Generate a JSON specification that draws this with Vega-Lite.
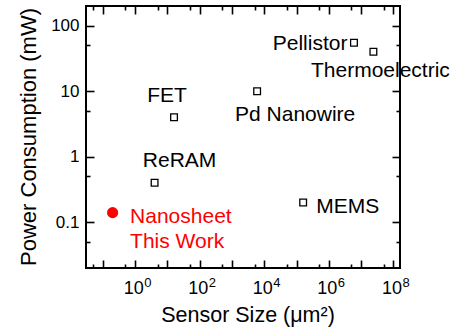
{
  "$schema": "https://vega.github.io/schema/vega-lite/v6.json",
  "width": 314,
  "height": 262,
  "autosize": "none",
  "padding": {"left": 86, "top": 6, "right": 56, "bottom": 64},
  "background": "white",
  "config": {
    "font": "Liberation Sans",
    "view": {"stroke": "black", "strokeWidth": 2},
    "axis": {
      "grid": false,
      "domain": false,
      "tickColor": "black",
      "tickWidth": 1.6,
      "labelColor": "black",
      "labelFont": "Liberation Sans",
      "labelFontSize": 17,
      "labelOverlap": false,
      "labelFlush": false,
      "titleColor": "black",
      "titleFont": "Liberation Sans",
      "titleFontWeight": "normal"
    }
  },
  "data": {
    "values": [
      {"device": "Nanosheet", "label": "Nanosheet\nThis Work", "size": 0.2, "power": 0.14},
      {"device": "ReRAM", "label": "ReRAM", "size": 4, "power": 0.4},
      {"device": "FET", "label": "FET", "size": 16, "power": 4},
      {"device": "Pd Nanowire", "label": "Pd Nanowire", "size": 6000, "power": 10},
      {"device": "MEMS", "label": "MEMS", "size": 160000, "power": 0.2},
      {"device": "Pellistor", "label": "Pellistor", "size": 6000000, "power": 55},
      {"device": "Thermoelectric", "label": "Thermoelectric", "size": 24000000, "power": 40}
    ]
  },
  "resolve": {"axis": {"x": "independent", "y": "independent"}},
  "layer": [
    {
      "transform": [{"filter": "datum.device != 'Nanosheet'"}],
      "mark": {"type": "point", "shape": "square", "filled": false, "stroke": "black", "strokeWidth": 1.3, "size": 45, "opacity": 1},
      "encoding": {
        "x": {
          "field": "size", "type": "quantitative",
          "scale": {"type": "log", "domain": [0.03, 160000000], "nice": false},
          "axis": {
            "orient": "bottom",
            "values": [0.1, 1, 10, 100, 1000, 10000, 100000, 1000000, 10000000, 100000000],
            "tickSize": -8,
            "labelPadding": 33,
            "labelFontSize": 18,
            "labelBaseline": "alphabetic",
            "labelAlign": "center",
            "labelOffset": -2,
            "labelExpr": "datum.value == 1 || datum.value == 100 || datum.value == 10000 || datum.value == 1000000 || datum.value == 100000000 ? '10' : ''",
            "title": "Sensor Size (μm²)",
            "titleFontSize": 21.5,
            "titleX": 161.5,
            "titleY": 53,
            "titleAlign": "center",
            "titleBaseline": "alphabetic"
          }
        },
        "y": {
          "field": "power", "type": "quantitative",
          "scale": {"type": "log", "domain": [0.02, 200], "nice": false},
          "axis": {
            "orient": "left",
            "values": [0.1, 1, 10, 100],
            "tickSize": -8,
            "labelPadding": 15,
            "labelExpr": "datum.value < 1 ? '0.1' : format(datum.value, 'd')",
            "title": "Power Consumption (mW)",
            "titleFontSize": 22,
            "titleAngle": -90,
            "titleX": -51,
            "titleY": 130.5,
            "titleAlign": "center",
            "titleBaseline": "alphabetic"
          }
        }
      }
    },
    {
      "transform": [{"filter": "datum.device == 'Nanosheet'"}],
      "mark": {"type": "point", "shape": "circle", "filled": true, "color": "#ff0000", "size": 125, "opacity": 1},
      "encoding": {
        "x": {
          "field": "size", "type": "quantitative",
          "scale": {"type": "log", "domain": [0.03, 160000000], "nice": false},
          "axis": {
            "orient": "bottom",
            "values": [0.05, 0.5, 5, 50, 500, 5000, 50000, 500000, 5000000, 50000000],
            "tickSize": -4, "labels": false, "title": null
          }
        },
        "y": {
          "field": "power", "type": "quantitative",
          "scale": {"type": "log", "domain": [0.02, 200], "nice": false},
          "axis": {
            "orient": "left",
            "values": [0.05, 0.5, 5, 50],
            "tickSize": -4, "labels": false, "title": null
          }
        }
      }
    },
    {
      "transform": [{"filter": "datum.device == 'Pellistor'"}],
      "mark": {"type": "text", "fontSize": 21, "align": "right", "baseline": "alphabetic", "dx": -6.5, "dy": 7, "color": "black"},
      "encoding": {
        "text": {"field": "label"},
        "x": {
          "field": "size", "type": "quantitative",
          "scale": {"type": "log", "domain": [0.03, 160000000], "nice": false},
          "axis": {
            "orient": "top",
            "values": [0.1, 1, 10, 100, 1000, 10000, 100000, 1000000, 10000000, 100000000],
            "tickSize": -8, "labels": false, "title": null
          }
        },
        "y": {
          "field": "power", "type": "quantitative",
          "scale": {"type": "log", "domain": [0.02, 200], "nice": false},
          "axis": {
            "orient": "right",
            "values": [0.1, 1, 10, 100],
            "tickSize": -8, "labels": false, "title": null
          }
        }
      }
    },
    {
      "transform": [{"filter": "datum.device == 'Thermoelectric'"}],
      "mark": {"type": "text", "fontSize": 21, "align": "center", "baseline": "alphabetic", "dx": 7, "dy": 25, "color": "black"},
      "encoding": {
        "text": {"field": "label"},
        "x": {
          "field": "size", "type": "quantitative",
          "scale": {"type": "log", "domain": [0.03, 160000000], "nice": false},
          "axis": {
            "orient": "top",
            "values": [0.05, 0.5, 5, 50, 500, 5000, 50000, 500000, 5000000, 50000000],
            "tickSize": -4, "labels": false, "title": null
          }
        },
        "y": {
          "field": "power", "type": "quantitative",
          "scale": {"type": "log", "domain": [0.02, 200], "nice": false},
          "axis": {
            "orient": "right",
            "values": [0.05, 0.5, 5, 50],
            "tickSize": -4, "labels": false, "title": null
          }
        }
      }
    },
    {
      "transform": [{"filter": "datum.device == 'Pd Nanowire'"}],
      "mark": {"type": "text", "fontSize": 21, "align": "center", "baseline": "alphabetic", "dx": 38, "dy": 29.5, "color": "black"},
      "encoding": {
        "text": {"field": "label"},
        "x": {
          "field": "size", "type": "quantitative",
          "scale": {"type": "log", "domain": [0.03, 160000000], "nice": false},
          "axis": {
            "orient": "bottom",
            "values": [1, 100, 10000, 1000000, 100000000],
            "ticks": false,
            "labelPadding": 18,
            "labelFontSize": 13,
            "labelBaseline": "alphabetic",
            "labelAlign": "left",
            "labelOffset": 8.5,
            "labelExpr": "format(log(datum.value) / LN10, '.0f')",
            "title": null
          }
        },
        "y": {"field": "power", "type": "quantitative", "scale": {"type": "log", "domain": [0.02, 200], "nice": false}, "axis": null}
      }
    },
    {
      "transform": [{"filter": "datum.device == 'FET'"}],
      "mark": {"type": "text", "fontSize": 21, "align": "center", "baseline": "alphabetic", "dx": -7, "dy": -15.5, "color": "black"},
      "encoding": {
        "text": {"field": "label"},
        "x": {"field": "size", "type": "quantitative", "scale": {"type": "log", "domain": [0.03, 160000000], "nice": false}, "axis": null},
        "y": {"field": "power", "type": "quantitative", "scale": {"type": "log", "domain": [0.02, 200], "nice": false}, "axis": null}
      }
    },
    {
      "transform": [{"filter": "datum.device == 'ReRAM'"}],
      "mark": {"type": "text", "fontSize": 21, "align": "center", "baseline": "alphabetic", "dx": 25, "dy": -16, "color": "black"},
      "encoding": {
        "text": {"field": "label"},
        "x": {"field": "size", "type": "quantitative", "scale": {"type": "log", "domain": [0.03, 160000000], "nice": false}, "axis": null},
        "y": {"field": "power", "type": "quantitative", "scale": {"type": "log", "domain": [0.02, 200], "nice": false}, "axis": null}
      }
    },
    {
      "transform": [{"filter": "datum.device == 'MEMS'"}],
      "mark": {"type": "text", "fontSize": 21, "align": "left", "baseline": "alphabetic", "dx": 13, "dy": 10, "color": "black"},
      "encoding": {
        "text": {"field": "label"},
        "x": {"field": "size", "type": "quantitative", "scale": {"type": "log", "domain": [0.03, 160000000], "nice": false}, "axis": null},
        "y": {"field": "power", "type": "quantitative", "scale": {"type": "log", "domain": [0.02, 200], "nice": false}, "axis": null}
      }
    },
    {
      "transform": [{"filter": "datum.device == 'Nanosheet'"}],
      "mark": {"type": "text", "fontSize": 21, "align": "left", "baseline": "alphabetic", "dx": 17.5, "dy": 10, "lineBreak": "\n", "lineHeight": 25, "color": "#ff0000"},
      "encoding": {
        "text": {"field": "label"},
        "x": {"field": "size", "type": "quantitative", "scale": {"type": "log", "domain": [0.03, 160000000], "nice": false}, "axis": null},
        "y": {"field": "power", "type": "quantitative", "scale": {"type": "log", "domain": [0.02, 200], "nice": false}, "axis": null}
      }
    }
  ]
}
